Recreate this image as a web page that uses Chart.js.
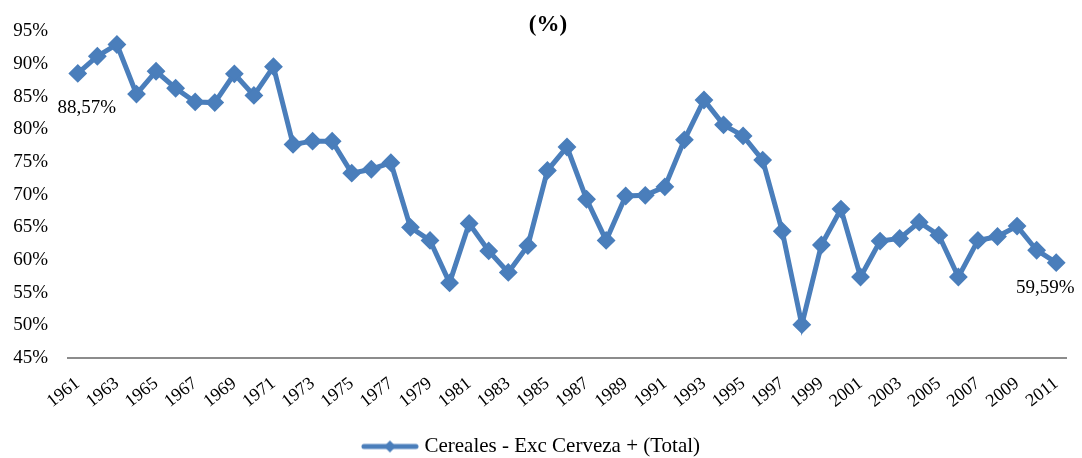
<!DOCTYPE html>
<html>
<head>
<meta charset="utf-8">
<script src="https://cdn.jsdelivr.net/npm/chart.js@4/dist/chart.umd.min.js"></script>
<style>
  html, body { margin: 0; padding: 0; background: #fff; }
  #wrap { width: 1082px; height: 458px; }
</style>
</head>
<body>
<div id="wrap"><canvas id="c" width="1082" height="458"></canvas></div>
<script>
const years = ['1961','1962','1963','1964','1965','1966','1967','1968','1969','1970',
  '1971','1972','1973','1974','1975','1976','1977','1978','1979','1980',
  '1981','1982','1983','1984','1985','1986','1987','1988','1989','1990',
  '1991','1992','1993','1994','1995','1996','1997','1998','1999','2000',
  '2001','2002','2003','2004','2005','2006','2007','2008','2009','2010','2011'];
const cereales = [88.57, 91.2, 93.0, 85.4, 88.9, 86.3, 84.2, 84.1, 88.5, 85.2,
  89.6, 77.7, 78.2, 78.2, 73.3, 73.9, 74.9, 65.0, 63.0, 56.5,
  65.6, 61.4, 58.1, 62.2, 73.7, 77.3, 69.3, 63.0, 69.8, 69.9,
  71.2, 78.4, 84.5, 80.7, 79.0, 75.3, 64.4, 50.1, 62.3, 67.8,
  57.4, 62.9, 63.3, 65.8, 63.8, 57.4, 63.0, 63.6, 65.2, 61.5, 59.59];
const seriesName = 'Cereales - Exc Cerveza + (Total)';
const titleText = '(%)';
const yTicks = [45, 50, 55, 60, 65, 70, 75, 80, 85, 90, 95];

const BLUE = '#4a7ebb';
const SERIF = '"Liberation Serif", "Times New Roman", serif';

// legend symbol: line with a diamond marker
const sym = document.createElement('canvas');
sym.width = 58; sym.height = 16;
(function(){
  const g = sym.getContext('2d');
  g.strokeStyle = BLUE; g.lineWidth = 5; g.lineCap = 'round';
  g.beginPath(); g.moveTo(3, 8); g.lineTo(55, 8); g.stroke();
  g.fillStyle = BLUE;
  g.beginPath(); g.moveTo(29 - 6, 8); g.lineTo(29, 2); g.lineTo(29 + 6, 8); g.lineTo(29, 14); g.closePath(); g.fill();
})();

const fmt = v => v.toFixed(2).replace('.', ',') + '%';

const endLabels = {
  id: 'endLabels',
  afterDatasetsDraw(chart) {
    const meta = chart.getDatasetMeta(0);
    const ctx = chart.ctx;
    const pts = [
      { i: 0, dx: 9, dy: 35 },
      { i: cereales.length - 1, dx: -11, dy: 25 }
    ];
    ctx.save();
    ctx.font = '19px ' + SERIF;
    ctx.fillStyle = '#000';
    ctx.textAlign = 'center';
    ctx.textBaseline = 'middle';
    pts.forEach(p => {
      const el = meta.data[p.i];
      ctx.fillText(fmt(cereales[p.i]), el.x + p.dx, el.y + p.dy);
    });
    ctx.restore();
  }
};

// chart title "(%)", centred slightly right of the canvas centre as in the reference
const titlePlugin = {
  id: 'pctTitle',
  afterDraw(chart) {
    const ctx = chart.ctx;
    ctx.save();
    ctx.font = 'bold 23px ' + SERIF;
    ctx.fillStyle = '#000';
    ctx.textAlign = 'center';
    ctx.textBaseline = 'middle';
    ctx.fillText(titleText, 548, 25);
    ctx.restore();
  }
};

new Chart(document.getElementById('c'), {
  type: 'line',
  data: {
    labels: years,
    datasets: [{
      label: seriesName,
      data: cereales,
      borderColor: BLUE,
      backgroundColor: BLUE,
      borderWidth: 5,
      pointStyle: 'rectRot',
      pointRadius: 8,
      pointHoverRadius: 8,
      pointBorderWidth: 2,
      pointBackgroundColor: BLUE,
      pointBorderColor: BLUE,
      tension: 0,
      fill: false
    }]
  },
  options: {
    responsive: false,
    animation: false,
    devicePixelRatio: 1,
    layout: { padding: { left: 0, right: 16, top: 20, bottom: -9 } },
    plugins: {
      title: { display: false },
      legend: {
        position: 'bottom',
        labels: {
          usePointStyle: true,
          pointStyle: sym,
          pointStyleWidth: 48,
          color: '#000',
          font: { family: SERIF, size: 21 },
          padding: 0
        }
      },
      tooltip: { enabled: false }
    },
    scales: {
      x: {
        offset: true,
        grid: { display: false, drawTicks: false, offset: true },
        border: { display: true, color: '#8c8c8c', width: 2 },
        ticks: {
          autoSkip: false,
          minRotation: 38,
          maxRotation: 38,
          padding: 15,
          color: '#000',
          font: { family: SERIF, size: 18 },
          callback: (v, i) => (i % 2 === 0 ? years[i] : '')
        },
        afterFit(scale) {
          scale.height = 78;
          scale.paddingLeft = 0;
          scale.paddingRight = 0;
        }
      },
      y: {
        min: 45,
        max: 95,
        grid: { display: false, drawTicks: false },
        border: { display: false },
        afterBuildTicks(scale) { scale.ticks = yTicks.map(v => ({ value: v })); },
        ticks: {
          color: '#000',
          padding: 20,
          font: { family: SERIF, size: 19 },
          callback: v => v + '%'
        },
        afterFit(scale) { scale.width = 68; }
      }
    }
  },
  plugins: [endLabels, titlePlugin]
});
</script>
</body>
</html>
